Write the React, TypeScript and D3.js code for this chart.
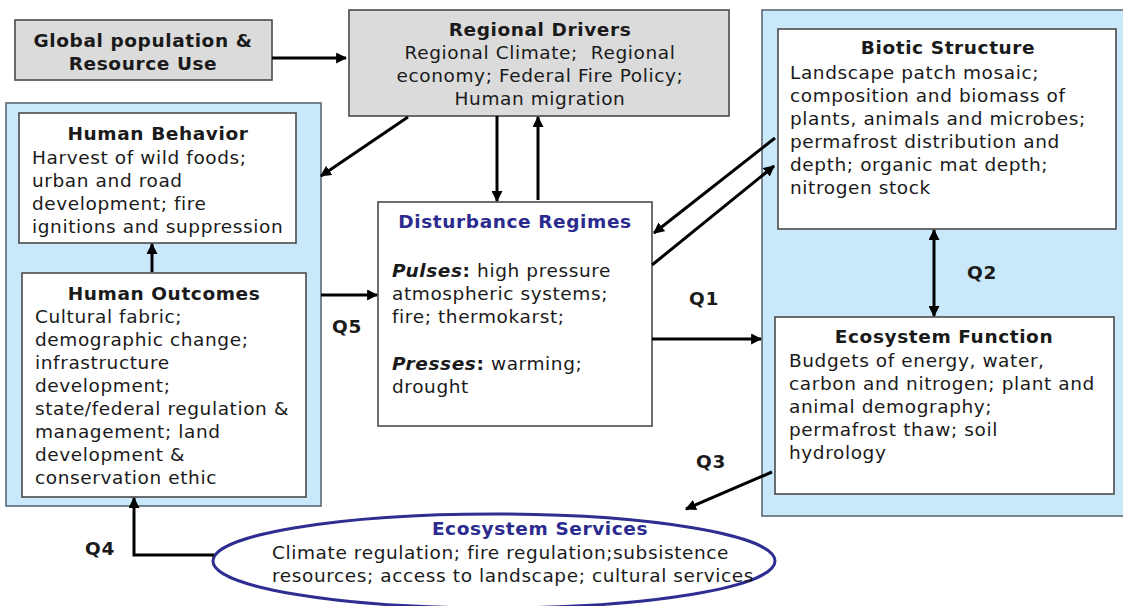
import React, { useEffect, useRef } from 'react';
import * as d3 from 'd3';

// diagram content
const globalLines = ['Global population &', 'Resource Use'];
const regionalTitle = 'Regional Drivers';
const regionalLines = ['Regional Climate;  Regional', 'economy; Federal Fire Policy;', 'Human migration'];
const behaviorTitle = 'Human Behavior';
const behaviorLines = ['Harvest of wild foods;', 'urban and road', 'development; fire', 'ignitions and suppression'];
const outcomesTitle = 'Human Outcomes';
const outcomesLines = [
  'Cultural fabric;',
  'demographic change;',
  'infrastructure',
  'development;',
  'state/federal regulation &',
  'management; land',
  'development &',
  'conservation ethic',
];
const disturbanceTitle = 'Disturbance Regimes';
const pulsesLines = ['high pressure', 'atmospheric systems;', 'fire; thermokarst;'];
const pressesLines = ['warming;', 'drought'];
const bioticTitle = 'Biotic Structure';
const bioticLines = [
  'Landscape patch mosaic;',
  'composition and biomass of',
  'plants, animals and microbes;',
  'permafrost distribution and',
  'depth; organic mat depth;',
  'nitrogen stock',
];
const functionTitle = 'Ecosystem Function';
const functionLines = [
  'Budgets of energy, water,',
  'carbon and nitrogen; plant and',
  'animal demography;',
  'permafrost thaw; soil',
  'hydrology',
];
const servicesTitle = 'Ecosystem Services';
const servicesLines = ['Climate regulation; fire regulation;subsistence', 'resources; access to landscape; cultural services'];
const questionLabels = ['Q1', 'Q2', 'Q3', 'Q4', 'Q5'];

const FONT = "'DejaVu Sans', Verdana, sans-serif";
const LINE = 23;

const App = () => {
  const svgRef = useRef(null);

  useEffect(() => {
    document.body.style.margin = '0';
    const svg = d3.select(svgRef.current);
    svg.selectAll('*').remove();

    const defs = svg.append('defs');
    defs
      .append('marker')
      .attr('id', 'head')
      .attr('viewBox', '0 0 10 10')
      .attr('refX', 9)
      .attr('refY', 5)
      .attr('markerWidth', 11)
      .attr('markerHeight', 11)
      .attr('markerUnits', 'userSpaceOnUse')
      .attr('orient', 'auto-start-reverse')
      .append('path')
      .attr('d', 'M0,0 L10,5 L0,10 z')
      .attr('fill', '#000');

    svg.append('rect').attr('width', 1123).attr('height', 606).attr('fill', '#fff');

    const box = (x, y, w, h, fill, stroke = '#4a4a4a', sw = 1.6) =>
      svg
        .append('rect')
        .attr('x', x)
        .attr('y', y)
        .attr('width', w)
        .attr('height', h)
        .attr('fill', fill)
        .attr('stroke', stroke)
        .attr('stroke-width', sw);

    const text = (x, y, str, opts: any = {}) =>
      svg
        .append('text')
        .attr('x', x)
        .attr('y', y)
        .attr('dominant-baseline', 'central')
        .attr('text-anchor', opts.anchor || 'start')
        .attr('font-family', FONT)
        .attr('font-size', opts.size || 18.5)
        .attr('letter-spacing', 0.6)
        .attr('font-weight', opts.bold ? 'bold' : 'normal')
        .attr('fill', opts.color || '#1a1a1a')
        .style('white-space', 'pre')
        .text(str);

    const lines = (x, y0, arr, opts: any = {}) =>
      arr.forEach((s, i) => text(x, y0 + i * LINE, s, opts));

    // containers
    box(6, 103, 315, 403, '#c9e9fb', '#5a6a75', 1.6);
    box(762, 10, 370, 506, '#c9e9fb', '#5a6a75', 1.6);

    // grey driver boxes
    box(15, 20, 257, 60, '#dbdbdb');
    lines(143, 40, globalLines, { anchor: 'middle', bold: true });

    box(349, 10, 380, 106, '#dbdbdb');
    text(540, 29, regionalTitle, { anchor: 'middle', bold: true });
    lines(540, 52, regionalLines, { anchor: 'middle' });

    // human boxes
    box(19, 113, 277, 130, '#fff');
    text(158, 133, behaviorTitle, { anchor: 'middle', bold: true });
    lines(32, 157, behaviorLines);

    box(22, 273, 284, 224, '#fff');
    text(164, 293, outcomesTitle, { anchor: 'middle', bold: true });
    lines(35, 316, outcomesLines);

    // disturbance
    box(378, 202, 274, 224, '#fff');
    text(515, 221, disturbanceTitle, { anchor: 'middle', bold: true, color: '#2b2b8f' });
    const mixed = (y, lead, rest) => {
      const t = text(392, y, '');
      t.append('tspan').attr('font-weight', 'bold').attr('font-style', 'italic').text(lead);
      t.append('tspan').attr('font-weight', 'bold').text(':');
      t.append('tspan').text(' ' + rest);
    };
    mixed(270, 'Pulses', pulsesLines[0]);
    lines(392, 293, pulsesLines.slice(1));
    mixed(363, 'Presses', pressesLines[0]);
    lines(392, 386, pressesLines.slice(1));

    // ecosystem boxes
    box(778, 29, 338, 200, '#fff');
    text(948, 47, bioticTitle, { anchor: 'middle', bold: true });
    lines(790, 72, bioticLines);

    box(775, 317, 339, 177, '#fff');
    text(944, 336, functionTitle, { anchor: 'middle', bold: true });
    lines(789, 360, functionLines);

    // services ellipse
    svg
      .append('ellipse')
      .attr('cx', 494)
      .attr('cy', 561)
      .attr('rx', 281)
      .attr('ry', 47)
      .attr('fill', '#fff')
      .attr('stroke', '#2e2e92')
      .attr('stroke-width', 3);
    text(540, 528, servicesTitle, { anchor: 'middle', bold: true, color: '#2b2b8f' });
    lines(272, 552, servicesLines);

    // arrows
    const line = d3.line();
    const arrow = (pts, both = false) => {
      const p = svg
        .append('path')
        .attr('d', line(pts))
        .attr('fill', 'none')
        .attr('stroke', '#000')
        .attr('stroke-width', 3)
        .attr('marker-end', 'url(#head)');
      if (both) p.attr('marker-start', 'url(#head)');
    };
    arrow([[272, 58], [346, 58]]);
    arrow([[408, 117], [321, 176]]);
    arrow([[497, 116], [497, 201]]);
    arrow([[538, 200], [538, 117]]);
    arrow([[775, 138], [654, 233]]);
    arrow([[652, 265], [774, 166]]);
    arrow([[652, 339], [761, 339]]);
    arrow([[934, 230], [934, 316]], true);
    arrow([[772, 472], [686, 509]]);
    arrow([[321, 295], [377, 295]]);
    arrow([[152, 272], [152, 244]]);
    arrow([[214, 555], [134, 555], [134, 498]]);

    // question labels
    const qPos = [[704, 298], [982, 272], [711, 461], [100, 548], [347, 326]];
    questionLabels.forEach((q, i) => text(qPos[i][0], qPos[i][1], q, { anchor: 'middle', bold: true }));
  }, []);

  return <svg ref={svgRef} width={1123} height={606} style={{ display: 'block' }} />;
};

export default App;
